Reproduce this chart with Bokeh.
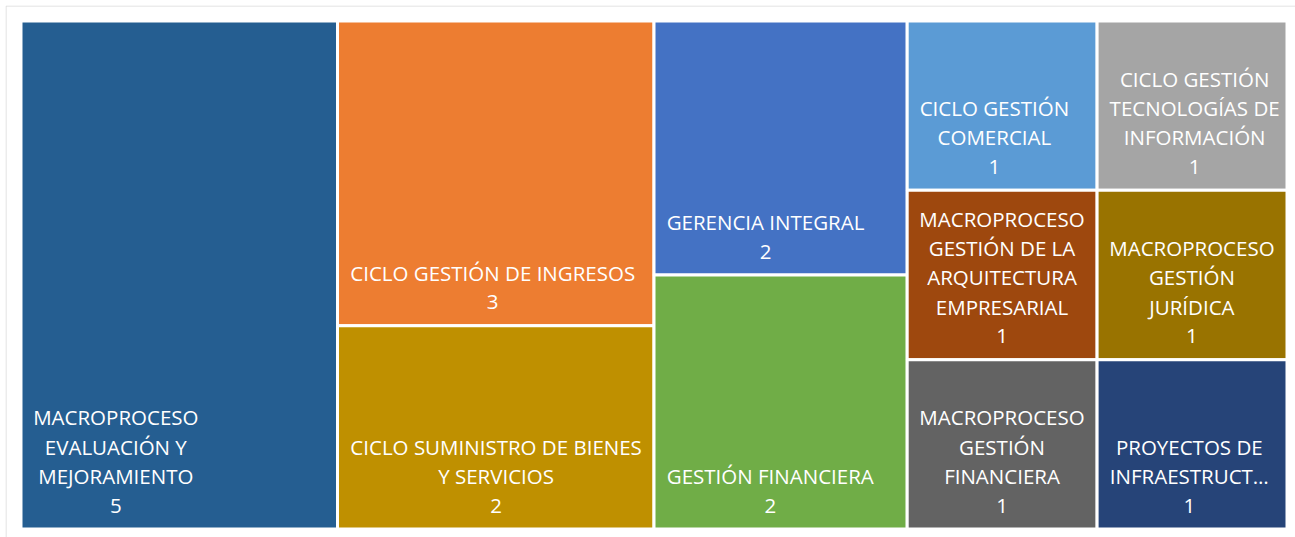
from bokeh.plotting import figure
from bokeh.models import ColumnDataSource, Range1d
from bokeh.core.properties import value
from bokeh.embed import file_html
from bokeh.resources import INLINE

# ---- data ----
labels = [
    "MACROPROCESO\nEVALUACIÓN Y\nMEJORAMIENTO",
    "CICLO GESTIÓN DE INGRESOS",
    "CICLO SUMINISTRO DE BIENES\nY SERVICIOS",
    "GERENCIA INTEGRAL",
    "GESTIÓN FINANCIERA",
    "CICLO GESTIÓN\nCOMERCIAL",
    "CICLO GESTIÓN\nTECNOLOGÍAS DE\nINFORMACIÓN",
    "MACROPROCESO\nGESTIÓN DE LA\nARQUITECTURA\nEMPRESARIAL",
    "MACROPROCESO\nGESTIÓN\nJURÍDICA",
    "MACROPROCESO\nGESTIÓN\nFINANCIERA",
    "PROYECTOS DE\nINFRAESTRUCT…",
]
values = [5, 3, 2, 2, 2, 1, 1, 1, 1, 1, 1]
colors = ["#255E91", "#ED7D31", "#BF9000", "#4472C4", "#70AD47", "#5B9BD5",
          "#A5A5A5", "#9E480E", "#997300", "#636363", "#264478"]
# treemap column grouping (indices into the lists above)
columns = [[0], [1, 2], [3, 4], [5, 7, 9], [6, 8, 10]]

# ---- layout from values (slice-and-dice by columns) ----
total = float(sum(values))
n_items = len(values)
left, right, top, bottom = [0.0] * n_items, [0.0] * n_items, [0.0] * n_items, [0.0] * n_items
x0 = 0.0
for col in columns:
    csum = sum(values[i] for i in col)
    w = csum / total
    y0 = 1.0
    for i in col:
        h = values[i] / csum
        left[i], right[i], top[i], bottom[i] = x0, x0 + w, y0, y0 - h
        y0 -= h
    x0 += w

# ---- pixel geometry ----
W, H = 1295, 537
FR_L, FR_T = 5, 5                 # frame (chart-area border) position
TM_W, TM_H = 1266.0, 508.0        # treemap size in px
PAD_TL, PAD_R, PAD_B_ = 15.5, 8.5, 8.5
xs = -PAD_TL / TM_W
xe = 1 + PAD_R / TM_W
ys = -PAD_B_ / TM_H
ye = 1 + PAD_TL / TM_H

# ---- text sizing (approx. Open Sans advance widths, units/2048) ----
FONT_PX = 20.5
ADV = {' ': 532, 'A': 1296, 'B': 1327, 'C': 1292, 'D': 1493, 'E': 1139, 'F': 1057,
       'G': 1491, 'H': 1511, 'I': 571, 'J': 547, 'K': 1257, 'L': 1096, 'M': 1849,
       'N': 1583, 'O': 1597, 'P': 1233, 'Q': 1597, 'R': 1266, 'S': 1124, 'T': 1139,
       'U': 1511, 'V': 1206, 'W': 1882, 'X': 1174, 'Y': 1147, 'Z': 1151, '…': 1640}
BASE = {'Á': 'A', 'É': 'E', 'Í': 'I', 'Ó': 'O', 'Ú': 'U'}


def text_w(s):
    return sum(ADV.get(BASE.get(c, c), 1171) for c in s) / 2048.0 * FONT_PX


PAD_L = 12.0
PAD_B = 23.5
LINE = 29.4

tx, ty, txo, tyo, tt = [], [], [], [], []
for i, lab in enumerate(labels):
    lines = lab.split("\n") + [str(values[i])]
    bw = max(text_w(s) for s in lines)
    n = len(lines)
    for j, s in enumerate(lines):
        k = n - 1 - j
        tx.append(left[i])
        ty.append(bottom[i])
        txo.append(PAD_L + bw / 2.0)
        tyo.append(-(PAD_B + k * LINE))
        tt.append(s)

rects = ColumnDataSource(dict(left=left, right=right, top=top, bottom=bottom, color=colors))
texts = ColumnDataSource(dict(x=tx, y=ty, xo=txo, yo=tyo, t=tt))

p = figure(width=W, height=H, output_backend="svg", toolbar_location=None,
           x_range=Range1d(xs, xe), y_range=Range1d(ys, ye),
           x_axis_location=None, y_axis_location=None,
           min_border_left=FR_L, min_border_top=FR_T, min_border_right=0, min_border_bottom=0)
p.grid.visible = False
p.outline_line_color = None
p.background_fill_color = "white"
p.border_fill_color = "white"

# chart-area border (top and left edges visible; others fall outside the window)
bx = xs + 0.5 / TM_W
by = ye - 0.5 / TM_H
p.line(x=[bx, bx, xe + 1], y=[ys - 1, by, by], line_color="#d9d9d9", line_width=1)

p.quad(left="left", right="right", top="top", bottom="bottom", source=rects,
       fill_color="color", line_color="white", line_width=3)

p.text(x="x", y="y", text="t", x_offset="xo", y_offset="yo", source=texts,
       text_color="white", text_font=value("Open Sans"), text_font_size="20.5px",
       text_align="center", text_baseline="alphabetic")

open("out.html", "w").write(file_html(p, INLINE))
